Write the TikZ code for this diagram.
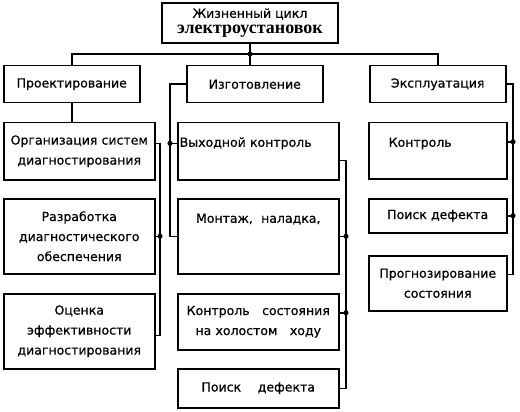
\documentclass[tikz,border=0pt]{standalone}
\usepackage{fontspec}
\setmainfont{DejaVu Sans}[FakeBold=0.6]
\newfontfamily\fuenteTitulo{Liberation Serif}
\usetikzlibrary{positioning, calc}
\colorlet{colLinea}{black}
\colorlet{colTexto}{black}
\tikzset{
  cajaBase/.style={
    draw=colLinea, line width=1.5pt, inner sep=2pt,
    align=center, font=\fontsize{12.5}{20}\selectfont, text=colTexto,
    fill=white
  },
  cajaTitulo/.style={cajaBase, line width=2.6pt, minimum width=176pt,
    minimum height=40pt, font=\fontsize{12.5}{16}\selectfont},
  cajaEtapa/.style={cajaBase, minimum width=136pt, minimum height=37pt},
  cajaIzq/.style={cajaBase, text width=147pt},
  cajaCentro/.style={cajaBase, text width=157pt},
  cajaDer/.style={cajaBase, text width=134pt},
  linea/.style={line width=1.5pt, colLinea},
  punto/.style={colLinea},
}

\begin{document}
\begin{tikzpicture}[x=1pt, y=-1pt, node distance=17.5pt]
    \useasboundingbox (0,0) rectangle (520,412);
    % titulo y etapas
    \node[cajaTitulo] (tit) at (250,23)
      {Жизненный цикл\\{\fuenteTitulo\bfseries\fontsize{18}{16}\selectfont электроустановок}};
    \node[cajaEtapa, anchor=north west] (proy) at (3,65) {Проектирование};
    \node[cajaEtapa, anchor=north west] (izg) at (186,65) {Изготовление};
    \node[cajaEtapa, anchor=north west] (expl) at (369,65) {Эксплуатация};

    % columna izquierda
    \node[cajaIzq, minimum height=57pt, anchor=north west] (org) at (3,122)
      {Организация систем\\диагностирования};
    \node[cajaIzq, minimum height=75pt, below=of org] (raz)
      {Разработка\\диагностического\\обеспечения};
    \node[cajaIzq, minimum height=75pt, below=18.5pt of raz] (oce)
      {Оценка\\эффективности\\диагностирования};

    % columna central
    \node[cajaCentro, minimum height=57pt, align=left, text height=22pt,
      text depth=31pt, anchor=north west] (vyh) at (177,122) {Выходной контроль};
    \node[cajaCentro, minimum height=75pt, text height=22pt, text depth=49pt,
      below=of vyh] (mon) {Монтаж,\ \ наладка,};
    \node[cajaCentro, minimum height=56pt, below=18.5pt of mon] (kon)
      {Контроль\ \ \ состояния\\на холостом\ \ \ ходу};
    \node[cajaCentro, minimum height=39pt, below=of kon] (poi)
      {Поиск\ \ \ \ дефекта};

    % columna derecha
    \node[cajaDer, minimum height=56pt, align=left, text height=22pt,
      text depth=30pt, anchor=north west] (kont) at (368,122)
      {\hspace*{18pt}Контроль};
    \node[cajaDer, minimum height=34pt, below=18.5pt of kont] (poisk) {Поиск дефекта};
    \node[cajaDer, minimum height=55pt, below=21.5pt of poisk] (prog)
      {Прогнозирование\\состояния};

    % buses
    \coordinate (bus) at (250,54);
    \coordinate (busIzq) at (160,0);
    \coordinate (busCen) at (170,0);
    \coordinate (busDer) at (346,0);
    \coordinate (busExt) at (513,0);
    \coordinate (orgDer) at ([yshift=8pt]org.east);
    \coordinate (oceDer) at ([yshift=-4pt]oce.east);
    \coordinate (vyhIzq) at ([yshift=8pt]vyh.west);
    \coordinate (vyhDer) at ([yshift=-9pt]vyh.east);
    \coordinate (konDer) at ([yshift=9pt]kon.east);
    \coordinate (kontDer) at ([yshift=9pt]kont.east);
    \coordinate (progDer) at ([yshift=9pt]prog.east);

    \draw[linea] (tit.south) -- (bus);
    \draw[linea] (proy.north) |- (bus) -| (expl.north);
    \draw[linea] (bus) -- (bus |- izg.north);
    \fill[punto] (bus) circle (2.6pt);

    \draw[linea] (proy.south) -- (proy.south |- org.north);
    \draw[linea] (orgDer) -| (busIzq |- oceDer) -- (oceDer);
    \draw[linea] (raz.east) -- (raz.east -| busIzq);
    \fill[punto] (raz.east -| busIzq) circle (2.6pt);

    \draw[linea] (izg.west) -| (busCen |- mon.west) -- (mon.west);
    \draw[linea] (vyhIzq) -- (vyhIzq -| busCen);
    \fill[punto] (vyhIzq -| busCen) circle (2.6pt);

    \draw[linea] (vyhDer) -| (busDer |- poi.east) -- (poi.east);
    \draw[linea] (mon.east) -- (mon.east -| busDer);
    \draw[linea] (konDer) -- (konDer -| busDer);
    \fill[punto] (mon.east -| busDer) circle (2.6pt);
    \fill[punto] (konDer -| busDer) circle (2.6pt);

    \draw[linea] (expl.east) -| (busExt |- progDer) -- (progDer);
    \draw[linea] (kontDer) -- (kontDer -| busExt);
    \draw[linea] (poisk.east) -- (poisk.east -| busExt);
    \fill[punto] (kontDer -| busExt) circle (2.6pt);
    \fill[punto] (poisk.east -| busExt) circle (2.6pt);
  \end{tikzpicture}
\end{document}
